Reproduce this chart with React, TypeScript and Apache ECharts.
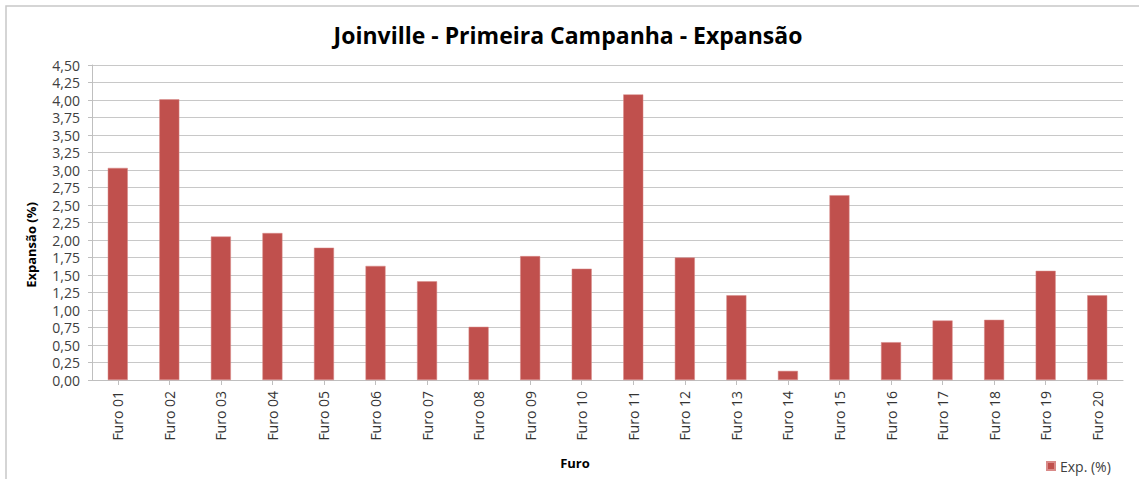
import React, { useEffect, useRef } from "react";
import * as echarts from "echarts";

const categories = [
  "Furo 01", "Furo 02", "Furo 03", "Furo 04", "Furo 05",
  "Furo 06", "Furo 07", "Furo 08", "Furo 09", "Furo 10",
  "Furo 11", "Furo 12", "Furo 13", "Furo 14", "Furo 15",
  "Furo 16", "Furo 17", "Furo 18", "Furo 19", "Furo 20",
];
const expValues = [
  3.03, 4.01, 2.05, 2.10, 1.89,
  1.63, 1.41, 0.76, 1.77, 1.59,
  4.08, 1.75, 1.21, 0.13, 2.64,
  0.54, 0.85, 0.86, 1.56, 1.21,
];
const seriesName = "Exp. (%)";
const titleText = "Joinville - Primeira Campanha - Expansão";
const yAxisName = "Expansão (%)";
const xAxisName = "Furo";

const FONT = "'Open Sans', 'Noto Sans', sans-serif";

export default function App() {
  const ref = useRef<HTMLDivElement>(null);
  useEffect(() => {
    document.body.style.margin = "0";
    const chart = echarts.init(ref.current!, null, { renderer: "svg" });
    chart.setOption({
      animation: false,
      backgroundColor: "#ffffff",
      textStyle: { fontFamily: FONT },
      title: {
        text: titleText,
        left: 563,
        textAlign: "center",
        top: 18,
        textStyle: { fontFamily: FONT, fontSize: 23, fontWeight: "bold", color: "#000000" },
      },
      legend: {
        data: [seriesName],
        left: 1041,
        top: 454,
        itemWidth: 8,
        itemHeight: 8,
        itemGap: 5,
        icon: "rect",
        textStyle: { fontFamily: FONT, fontSize: 14, color: "#404040" },
      },
      grid: { left: 92, right: 16, top: 65, bottom: 99, containLabel: false },
      xAxis: {
        type: "category",
        data: categories,
        axisLine: { lineStyle: { color: "#bfbfbf", width: 1 } },
        axisTick: { show: true, alignWithLabel: true, length: 5, lineStyle: { color: "#bfbfbf" } },
        axisLabel: {
          rotate: 90,
          margin: 11,
          fontFamily: FONT,
          fontSize: 14,
          color: "#333333",
          interval: 0,
        },
      },
      yAxis: {
        type: "value",
        min: 0,
        max: 4.5,
        interval: 0.25,
        axisLine: { show: true, lineStyle: { color: "#bfbfbf", width: 1 } },
        axisTick: { show: true, length: 4, lineStyle: { color: "#bfbfbf" } },
        axisLabel: {
          margin: 12,
          fontFamily: FONT,
          fontSize: 14,
          color: "#404040",
          formatter: (v: number) => v.toFixed(2).replace(".", ","),
        },
        splitLine: { show: true, lineStyle: { color: "#c8c8c8", width: 1.2 } },
      },
      graphic: [
        {
          type: "rect",
          shape: { x: 6, y: 6, width: 1200, height: 600 },
          style: { fill: "none", stroke: "#c8c8c8", lineWidth: 1.5 },
          silent: true,
        },
        {
          type: "text",
          x: 31,
          y: 245,
          rotation: Math.PI / 2,
          style: {
            text: yAxisName,
            fontFamily: FONT,
            fontSize: 13,
            fontWeight: "bold",
            fill: "#000000",
            align: "center",
            verticalAlign: "middle",
          },
        },
        {
          type: "text",
          x: 575,
          y: 463,
          style: {
            text: xAxisName,
            fontFamily: FONT,
            fontSize: 13,
            fontWeight: "bold",
            fill: "#000000",
            align: "center",
            verticalAlign: "middle",
          },
        },
      ],
      series: [
        {
          name: seriesName,
          type: "bar",
          data: expValues,
          barWidth: 20,
          itemStyle: { color: "#C0504D", borderColor: "#d98a88", borderWidth: 0.5 },
        },
      ],
    });
    return () => chart.dispose();
  }, []);
  return <div ref={ref} style={{ width: 1139, height: 479 }} />;
}
